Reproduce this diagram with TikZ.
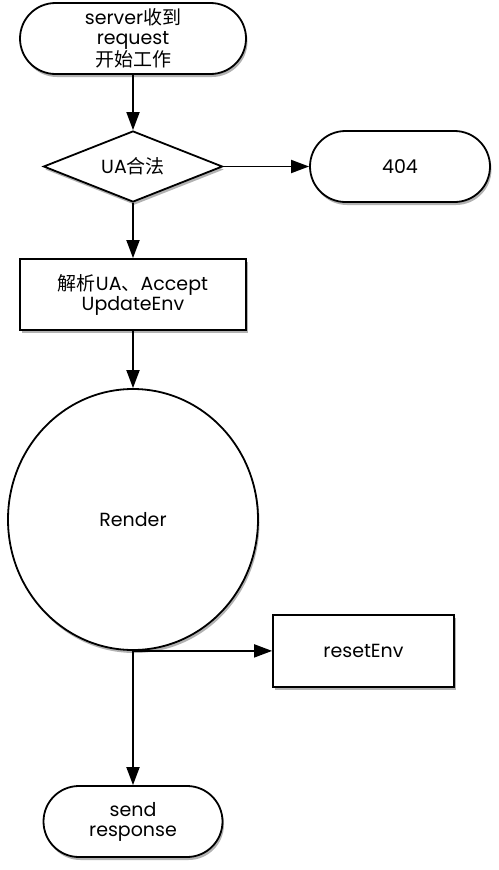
\documentclass[tikz,border=0pt]{standalone}
\usepackage{fontspec}
\setmainfont{Poppins}
\newfontfamily\cjk{Noto Sans CJK SC}
\usetikzlibrary{shapes.geometric,shapes.misc,shadows,arrows.meta}
\begin{document}
\begin{tikzpicture}[x=1pt,y=-1pt,
  every node/.style={font=\fontsize{19}{20}\selectfont, align=center, inner sep=0pt},
  shad/.style={drop shadow={shadow xshift=1.5pt,shadow yshift=-3pt,opacity=0.3,fill=black}},
  base/.style={draw=black, line width=1.8pt, fill=white, shad},
  term/.style={base, rounded rectangle, minimum height=71pt},
  proc/.style={base, rectangle, minimum height=71pt},
  dec/.style={base, diamond, shape aspect=2.52, minimum width=179pt, minimum height=71pt},
  big/.style={base, ellipse, minimum width=250pt, minimum height=261pt},
  arr/.style={line width=1.8pt, -{Triangle[length=18pt,width=13pt]}}
]
\useasboundingbox (0,0) rectangle (498,870);
\node[term, minimum width=226pt] (start) at (133,38.5) {server{\cjk 收到}\\request\\{\cjk 开始工作}};
\node[dec] (ua) at (133,166.5) {UA{\cjk 合法}};
\node[term, minimum width=180pt] (nf) at (400,166.5) {404};
\node[proc, minimum width=226pt] (parse) at (133,294.5) {{\cjk 解析}UA{\cjk 、}Accept\\UpdateEnv};
\node[big] (render) at (133,519.5) {Render};
\node[proc, minimum width=181pt, minimum height=72pt] (reset) at (363.5,651) {resetEnv};
\node[term, minimum width=179pt] (send) at (133,821.5) {send\\response};
\draw[arr] (start) -- (ua);
\draw[arr] (ua) -- (nf);
\draw[arr] (ua) -- (parse);
\draw[arr] (parse) -- (render);
\draw[arr] (render.south) -- (render.south -| reset.west);
\draw[arr] (render) -- (send);
\end{tikzpicture}
\end{document}
